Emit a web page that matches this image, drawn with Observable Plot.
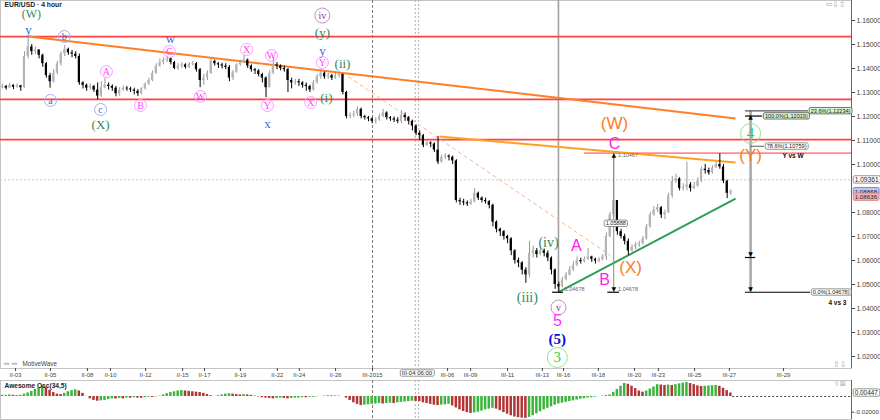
<!DOCTYPE html>
<html><head><meta charset="utf-8">
<script src="https://cdn.jsdelivr.net/npm/d3@7"></script>
<script src="https://cdn.jsdelivr.net/npm/@observablehq/plot@0.6"></script>
<style>
body{margin:0;background:#fff;}
#wrap{position:relative;width:880px;height:420px;overflow:hidden;background:#fff;}
#main{position:absolute;left:0;top:0;}
#osc{position:absolute;left:0;top:380px;}
svg{display:block;}
</style></head><body><div id="wrap"><div id="main"></div><div id="osc"></div></div>
<script>
// ---------------- DATA (EUR/USD, 4 hour candles) ----------------
const firstOpen = 1.1320;
const closes = [
 1.1325,1.1318,1.1330,1.1322,1.1328,1.1320,1.1450,1.1490,1.1470,1.1478,
 1.1455,1.1420,1.1370,1.1345,1.1380,1.1420,1.1460,1.1480,1.1465,1.1460,
 1.1450,1.1340,1.1330,1.1318,1.1325,1.1310,1.1285,1.1320,1.1330,1.1325,
 1.1318,1.1295,1.1310,1.1318,1.1315,1.1310,1.1305,1.1295,1.1315,1.1335,
 1.1350,1.1380,1.1410,1.1425,1.1435,1.1440,1.1425,1.1400,1.1410,1.1415,
 1.1405,1.1418,1.1420,1.1395,1.1350,1.1360,1.1380,1.1430,1.1420,1.1415,
 1.1410,1.1405,1.1360,1.1385,1.1415,1.1425,1.1435,1.1410,1.1395,1.1390,
 1.1375,1.1360,1.1320,1.1380,1.1415,1.1410,1.1400,1.1395,1.1350,1.1340,
 1.1345,1.1340,1.1330,1.1325,1.1310,1.1340,1.1365,1.1380,1.1365,1.1370,
 1.1360,1.1370,1.1375,1.1300,1.1200,1.1205,1.1210,1.1230,1.1200,1.1195,
 1.1190,1.1180,1.1185,1.1200,1.1215,1.1195,1.1190,1.1185,1.1180,1.1205,
 1.1195,1.1180,1.1160,1.1130,1.1120,1.1080,1.1090,1.1085,1.1060,1.1010,
 1.1030,1.1035,1.1030,1.1015,1.0850,1.0845,1.0840,1.0835,1.0845,1.0880,
 1.0860,1.0850,1.0845,1.0830,1.0760,1.0730,1.0720,1.0700,1.0690,1.0640,
 1.0600,1.0590,1.0560,1.0540,1.0630,1.0640,1.0625,1.0640,1.0630,1.0610,
 1.0560,1.0500,1.0490,1.0520,1.0540,1.0560,1.0580,1.0600,1.0595,1.0605,
 1.0615,1.0605,1.0598,1.0605,1.0615,1.0700,1.0790,1.0850,1.0720,1.0700,
 1.0680,1.0640,1.0655,1.0665,1.0670,1.0690,1.0740,1.0790,1.0810,1.0820,
 1.0790,1.0800,1.0870,1.0930,1.0940,1.0900,1.0905,1.0915,1.0900,1.0910,
 1.0930,1.0980,1.0975,1.0965,1.0985,1.1000,1.0990,1.0930,1.0880,1.0887];
const highs = [
 1.1335,1.1330,1.1338,1.1332,1.1336,1.1330,1.1470,1.1533,1.1500,1.1490,
 1.1475,1.1460,1.1425,1.1380,1.1395,1.1430,1.1470,1.1495,1.1485,1.1475,
 1.1470,1.1460,1.1345,1.1335,1.1335,1.1330,1.1340,1.1345,1.1358,1.1340,
 1.1332,1.1325,1.1320,1.1328,1.1325,1.1322,1.1318,1.1312,1.1320,1.1340,
 1.1360,1.1390,1.1420,1.1440,1.1445,1.1452,1.1445,1.1430,1.1420,1.1425,
 1.1420,1.1425,1.1430,1.1425,1.1400,1.1375,1.1390,1.1440,1.1435,1.1425,
 1.1422,1.1420,1.1412,1.1392,1.1420,1.1435,1.1455,1.1440,1.1415,1.1400,
 1.1395,1.1380,1.1365,1.1390,1.1445,1.1425,1.1415,1.1410,1.1400,1.1360,
 1.1355,1.1355,1.1345,1.1340,1.1330,1.1350,1.1375,1.1395,1.1385,1.1380,
 1.1375,1.1380,1.1385,1.1378,1.1305,1.1215,1.1222,1.1240,1.1235,1.1205,
 1.1200,1.1195,1.1195,1.1210,1.1230,1.1220,1.1200,1.1198,1.1195,1.1225,
 1.1215,1.1200,1.1185,1.1165,1.1140,1.1125,1.1100,1.1095,1.1090,1.1117,
 1.1040,1.1045,1.1040,1.1035,1.1020,1.0860,1.0855,1.0848,1.0855,1.0900,
 1.0885,1.0865,1.0860,1.0850,1.0835,1.0765,1.0735,1.0725,1.0705,1.0695,
 1.0645,1.0610,1.0595,1.0570,1.0680,1.0660,1.0650,1.0655,1.0648,1.0640,
 1.0615,1.0565,1.0510,1.0530,1.0550,1.0575,1.0595,1.0615,1.0610,1.0615,
 1.0650,1.0618,1.0610,1.0612,1.0625,1.0715,1.0800,1.1047,1.0850,1.0730,
 1.0710,1.0690,1.0665,1.0675,1.0680,1.0700,1.0750,1.0800,1.0825,1.0835,
 1.0825,1.0810,1.0880,1.0950,1.0960,1.0945,1.0920,1.1010,1.0925,1.0925,
 1.0945,1.0990,1.1000,1.0985,1.0995,1.1010,1.1045,1.1000,1.0935,1.0895];
const lows = [
 1.1315,1.1310,1.1318,1.1312,1.1318,1.1305,1.1318,1.1440,1.1455,1.1458,
 1.1440,1.1405,1.1360,1.1318,1.1340,1.1375,1.1410,1.1450,1.1455,1.1445,
 1.1440,1.1330,1.1315,1.1305,1.1310,1.1300,1.1270,1.1280,1.1315,1.1310,
 1.1305,1.1282,1.1285,1.1305,1.1305,1.1300,1.1290,1.1283,1.1290,1.1310,
 1.1330,1.1345,1.1375,1.1405,1.1415,1.1425,1.1415,1.1395,1.1392,1.1400,
 1.1398,1.1400,1.1410,1.1385,1.1320,1.1330,1.1350,1.1375,1.1410,1.1400,
 1.1398,1.1395,1.1345,1.1350,1.1380,1.1410,1.1420,1.1400,1.1385,1.1375,
 1.1365,1.1340,1.1278,1.1320,1.1375,1.1395,1.1390,1.1385,1.1300,1.1315,
 1.1330,1.1325,1.1318,1.1305,1.1300,1.1305,1.1335,1.1355,1.1355,1.1355,
 1.1350,1.1355,1.1360,1.1290,1.1190,1.1190,1.1195,1.1200,1.1190,1.1185,
 1.1178,1.1170,1.1168,1.1180,1.1195,1.1185,1.1180,1.1175,1.1170,1.1170,
 1.1180,1.1165,1.1140,1.1120,1.1100,1.1070,1.1075,1.1070,1.1050,1.1000,
 1.1005,1.1020,1.1015,1.1000,1.0840,1.0830,1.0828,1.0825,1.0830,1.0840,
 1.0850,1.0840,1.0835,1.0815,1.0740,1.0715,1.0700,1.0685,1.0670,1.0620,
 1.0585,1.0570,1.0540,1.0505,1.0530,1.0610,1.0610,1.0620,1.0615,1.0595,
 1.0540,1.0480,1.0468,1.0485,1.0515,1.0535,1.0555,1.0575,1.0585,1.0590,
 1.0600,1.0592,1.0585,1.0590,1.0598,1.0600,1.0695,1.0780,1.0705,1.0690,
 1.0665,1.0620,1.0635,1.0645,1.0655,1.0665,1.0685,1.0735,1.0785,1.0800,
 1.0775,1.0770,1.0795,1.0860,1.0920,1.0890,1.0890,1.0890,1.0885,1.0895,
 1.0905,1.0925,1.0960,1.0955,1.0960,1.0985,1.0980,1.0920,1.0858,1.0870];
// Awesome Oscillator (34,5), in thousandths
const aoValues = [
 1.5,1.5,2,1.5,1,1.5,3,4.5,6.5,9,
 11,13,11,8,5,3,2.5,4,6,7.5,
 8.5,7,4,0,-3,-5,-6,-5.5,-5,-4,
 -3,-3.2,-2.5,-3,-2,-2.2,-1.5,-2,-2.3,-1.5,
 -1,-1.2,-0.5,0.5,2,3.5,5,6,7,7.5,
 7,6.5,6,5.5,5,4,2.5,1,0,1,
 2,3,3.5,3,2.5,2,2.5,2,1.5,0.5,
 -0.5,-1.5,-2,-2.5,-3,-2.5,-2,-2.5,-3,-2.5,
 -2,-2,-1.5,-1.6,-1,-1,-0.5,0,0.5,1,
 1,0.5,0.5,0,-2,-5,-8,-10,-11.5,-11,
 -10.5,-10,-9.5,-9,-9.5,-9,-8.5,-9,-8,-7.5,
 -7,-6.5,-6,-6.2,-6.5,-8,-9,-10,-11,-11.5,
 -11,-10.5,-10,-12,-14.5,-17,-19,-20.5,-21.5,-21,
 -20,-18.5,-17,-16,-15,-16,-18,-20.5,-22.5,-24.5,
 -26,-27,-27.5,-27.8,-26.5,-24.5,-22,-19.5,-17,-15,
 -13,-11,-9.5,-8.5,-7.5,-6.5,-5.5,-4.5,-3.5,-2.8,
 -2,-1.5,-0.8,0,0.6,1.2,2,5,9,13,
 16.5,15.5,13,10,7,5.5,7,9.5,12,15,
 14.5,14,14.5,14,15,16,17,17.8,16.5,15,
 13.5,12.7,13,13.3,13.6,14,13,10.5,7.5,4.47];

// price-axis labels (1.09000 is hidden behind the last-price tags in the reference)
const priceTicks = [1.02,1.03,1.04,1.05,1.06,1.07,1.08,1.10,1.11,1.12,1.13,1.14,1.15,1.16];
const oscTicks = [-0.02];
const dateTickIndex = [3.55,13.1,23.2,29.5,39.1,49.2,55.2,65,75.1,81.1,91,101.1,121.6,127.9,138,147.5,153.3,162.8,172.7,179.2,189.1,198.6,213.4];
const dateTickLabels = ["II-03","II-05","II-08","II-10","II-12","II-15","II-17","II-19","II-22","II-24","II-26","III-2015","III-06","III-09","III-11","III-13","III-16","III-18","III-20","III-23","III-25","III-27","III-29"];
const monthBreak = 101.1;
const crosshair = [112.8, 113.7];
const crosshairLabel = "III-04 06:00";
const currentPrice = 1.09361;
const lastPrices = [1.08868, 1.08636];
const lastAO = 0.00447;

// horizontal red levels
const redLevels = [1.1533, 1.1271, 1.1104];
const cLevel = {p: 1.1047, from: 159};
// trend lines
const trendlines = [
 {i1: 7.1, p1: 1.1533, i2: 200.3, p2: 1.1192, k: "orange"},
 {i1: 119.4, p1: 1.1117, i2: 200.3, p2: 1.1008, k: "amber"},
 {i1: 151.9, p1: 1.04678, i2: 200.3, p2: 1.0858, k: "green"},
 {i1: 92.9, p1: 1.1383, i2: 166.1, p2: 1.0621, k: "dash"}
];
// Elliott wave labels
const waveText  = ["(W)","y","b","a","c","(X)","A","B","w","C","W","X","W","Y","x","iv","(y)","y","Y","(ii)","X","(i)","(iii)","(iv)","v","5","(5)","3","A","B","(X)","(W)","C","4","(Y)"];
const waveIndex = [7.9,7.1,16.9,13.1,26.8,26.8,28.4,37.7,45.9,45.6,54.1,66.7,73.5,72.4,72.4,87.4,87.4,87.4,87.4,92.9,84.2,88.5,143.4,149.2,151.9,151.6,151.6,151.6,156.8,164.5,171.6,167.2,167.2,204.4,204.4];
const wavePrice = [1.16250,1.15625,1.15333,1.12667,1.12292,1.11667,1.13875,1.12458,1.1525,1.14708,1.12833,1.14792,1.14542,1.12458,1.11708,1.16208,1.155,1.1475,1.1425,1.14208,1.12583,1.12792,1.04458,1.0675,1.04042,1.035,1.02708,1.01958,1.06625,1.05208,1.05708,1.11708,1.10875,1.11292,1.10375];
const waveDegree = ["gt","b","bc","bc","bc","g","mc","mc","b","mc","mc","mc","mc","mc","b","pc","g","b","mc","g","mc","g","g2","g2","pc","m","B","lc","M","M","O","O","M","lc","O"];
// fibonacci / measure tool
const fibLevels = [1.12234, 1.12019, 1.10759, 1.04678];
const fibLabels = ["23.6%(1.12234)","100.0%(1.12019)","78.6%(1.10759)","0.0%(1.04678)"];
const fibAnchor = 204.4;
const fibLow = 1.04678, fibTop = 1.12234, fibMark = 1.06125;
const measureIndex = 167, measureHigh = 1.1047;
const measureTag = "1.05888", measureTagPrice = 1.07542;

// ---------------- STYLES ----------------
const serif = "Liberation Serif, Times New Roman, serif";
const sans = "Liberation Sans, Arial, sans-serif";
const sym = "DejaVu Sans, sans-serif";
const upCol = "#b4b4b4", upWick = "#999999", downCol = "#000000";
const aoUp = "#3db43d", aoDown = "#b03535";
const degreeStyles = {
 gt: {fill:"#2e8b57", size:12, font:serif},
 g:  {fill:"#2e8b57", size:13, font:serif},
 g2: {fill:"#2e8b57", size:14, font:serif},
 b:  {fill:"#4169e1", size:13, font:serif},
 bc: {fill:"#4169e1", size:10, font:serif, r:6, ring:"#9db3f2"},
 mc: {fill:"#ff40ff", size:10, font:serif, r:6, ring:"#ff9cff"},
 pc: {fill:"#8e3a8e", size:10, font:serif, r:7.5, ring:"#c58bc5"},
 m:  {fill:"#ff30ff", size:16, font:sans},
 B:  {fill:"#0a0ad0", size:15, font:serif, weight:"bold"},
 lc: {fill:"#33cc33", size:15, font:serif, r:10, ring:"#8de58d"},
 M:  {fill:"#ff22ee", size:16, font:sans},
 O:  {fill:"#ff7a1a", size:17, font:sans}
};
const trendStyles = {
 orange: {stroke:"#ff7f27", w:2},
 amber:  {stroke:"#ffa020", w:2},
 green:  {stroke:"#2e9e5a", w:2},
 dash:   {stroke:"#ffb38a", w:1, dash:"4,3"}
};
const tagStyles = {white: ["#ffffff", "#7a7a7a"], green: ["#d4f4d0", "#555555"], blue: ["#bfc3f2", "#6f6fc0"], pink: ["#f6b3b3", "#cf7a7a"]};

// ---------------- BUILD ----------------
const xDomain = [-0.546, 231.97];
const yDomain = [1.015, 1.168333];
const candles = closes.map((c, i) => ({i, o: i === 0 ? firstOpen : closes[i-1], h: highs[i], l: lows[i], c}));
const isUp = d => d.c >= d.o;
const labelMap = new Map(dateTickIndex.map((t, k) => [t, dateTickLabels[k]]));
const waves = waveText.map((t, k) => ({t, i: waveIndex[k], p: wavePrice[k], s: waveDegree[k]}));

const waveMarks = [];
for (const [key, st] of Object.entries(degreeStyles)) {
  const data = waves.filter(d => d.s === key);
  if (!data.length) continue;
  if (st.r) waveMarks.push(Plot.dot(data, {x:"i", y:"p", r: st.r, stroke: st.ring, fill: "none", strokeWidth: 1}));
  waveMarks.push(Plot.text(data, {x:"i", y:"p", text:"t", fill: st.fill, fontSize: st.size, fontFamily: st.font, fontWeight: st.weight || "normal"}));
}
const trendMarks = trendlines.map(t => {
  const st = trendStyles[t.k];
  return Plot.link([t], {x1:"i1", y1:"p1", x2:"i2", y2:"p2", stroke: st.stroke, strokeWidth: st.w, strokeDasharray: st.dash || null});
});

const fibSegments = [
 {p: fibLevels[0], i1: fibAnchor - 1.4, i2: 220.2, s: "#555"},
 {p: fibLevels[1], i1: fibAnchor - 1.4, i2: 207.7, s: "#000"},
 {p: fibLevels[2], i1: fibAnchor, i2: 208.2, s: "#777"},
 {p: fibMark, i1: fibAnchor - 1.4, i2: fibAnchor + 1.4, s: "#000"},
 {p: fibLevels[3], i1: fibAnchor - 1.4, i2: 220.8, s: "#000"},
 {p: fibLow, i1: measureIndex - 1.6, i2: measureIndex + 1.6, s: "#000"},
 {p: fibLow, i1: 150.3, i2: 153.3, s: "#000"}
];
const markers = [
 {i: measureIndex, p: 1.1040, t: "▲"}, {i: measureIndex, p: 1.0481, t: "▼"},
 {i: fibAnchor, p: 1.0481, t: "▼"}, {i: fibAnchor, p: 1.0627, t: "▼"},
 {i: fibAnchor, p: 1.1197, t: "▲"}
];
const smallTags = [
 {i: 168.2, p: 1.1037, t: "1.10467"},
 {i: 168.2, p: 1.0480, t: "1.04678"},
 {i: 153.6, p: 1.0480, t: "1.04678"}
];
const fibBoxesG = [{i: 220.4, p: fibLevels[0], t: fibLabels[0]}, {i: 207.9, p: fibLevels[1], t: fibLabels[1]}];
const fibBoxesW = [{i: 208.4, p: fibLevels[2], t: fibLabels[2]}, {i: 221.0, p: fibLevels[3], t: fibLabels[3]}, {i: 164.4, p: measureTagPrice, t: measureTag}];
const axisEdge = 232.3;

// which texts get a framed tag, and in which colours
const tagFor = new Map([
 [fibLabels[0], "green"], [fibLabels[1], "green"], [fibLabels[2], "white"], [fibLabels[3], "white"],
 [measureTag, "white"], [currentPrice.toFixed(5), "white"], [lastPrices[0].toFixed(5), "blue"],
 [lastPrices[1].toFixed(5), "pink"], [crosshairLabel, "white"], [lastAO.toFixed(5), "white"]
]);

const main = Plot.plot({
  width: 880, height: 380,
  marginTop: 0, marginRight: 29, marginBottom: 12, marginLeft: 0,
  x: {domain: xDomain, label: null},
  y: {domain: yDomain, label: null},
  color: {type: "identity"},
  style: {fontFamily: sans, background: "#fff", overflow: "visible"},
  marks: [
    Plot.frame({stroke: "#c4c4c4"}),
    Plot.ruleY([currentPrice], {stroke: "#c8c8c8", strokeDasharray: "2,2"}),
    Plot.ruleX([monthBreak], {stroke: "#7a7a7a", strokeDasharray: "3,2"}),
    Plot.ruleX(crosshair, {stroke: "#b0b0b0", strokeDasharray: "2,2"}),
    Plot.ruleX([{i: 151.9}], {x: "i", y1: () => fibLow, y2: () => yDomain[1], stroke: "#a0a0a0", strokeWidth: 1.6}),
    Plot.ruleY(redLevels, {stroke: "#ff4040", strokeWidth: 1.8}),
    Plot.ruleY([cLevel], {y: "p", x1: "from", x2: () => xDomain[1], stroke: "#ff8c8c", strokeWidth: 1.8}),
    ...trendMarks,
    Plot.ruleX(candles, {x: "i", y1: "l", y2: "h", stroke: d => isUp(d) ? upWick : downCol, strokeWidth: 1}),
    Plot.rect(candles, {x1: d => d.i - 0.3, x2: d => d.i + 0.3, y1: "o", y2: "c", fill: d => isUp(d) ? upCol : downCol}),
    Plot.ruleX([{i: measureIndex}], {x: "i", y1: () => measureHigh, y2: () => fibLow, stroke: "#8a8a8a", strokeWidth: 1}),
    Plot.ruleX([{i: fibAnchor}], {x: "i", y1: () => fibTop, y2: () => fibLow, stroke: "#a8a8a8", strokeWidth: 2.5}),
    Plot.ruleY(fibSegments, {y: "p", x1: "i1", x2: "i2", stroke: "s", strokeWidth: 1.2}),
    Plot.text(markers, {x: "i", y: "p", text: "t", fontSize: 6, fill: "#000", fontFamily: sym}),
    Plot.text(smallTags, {x: "i", y: "p", text: "t", fontSize: 5.5, fill: "#666", textAnchor: "start"}),
    ...waveMarks,
    Plot.text([{i: 218.9, p: 1.10375, t: "Y vs W"}, {i: 230.6, p: 1.0425, t: "4 vs 3"}], {x: "i", y: "p", text: "t", textAnchor: "end", fontSize: 6.5, fontWeight: "bold", fill: "#111"}),
    Plot.ruleX([xDomain[1]], {stroke: "#666"}),
    Plot.axisY(priceTicks, {anchor: "right", tickSize: 3, tickPadding: 2, tickFormat: d => d.toFixed(5), fontSize: 6.8, color: "#444", label: null}),
    Plot.axisX(dateTickIndex, {anchor: "bottom", tickSize: 3, tickPadding: 1, tickFormat: d => labelMap.get(d), fontSize: 6, color: "#444", label: null}),
    Plot.text(fibBoxesG, {x: "i", y: "p", text: "t", textAnchor: "start", dx: 1.5, fontSize: 5.6, fill: "#222"}),
    Plot.text(fibBoxesW, {x: "i", y: "p", text: "t", textAnchor: "start", dx: 1.5, fontSize: 5.6, fill: "#222"}),
    Plot.text([{i: axisEdge, p: currentPrice}], {x: "i", y: "p", text: () => currentPrice.toFixed(5), textAnchor: "start", dx: 2, fontSize: 6.6, fill: "#222"}),
    Plot.text([{i: axisEdge, p: lastPrices[0]}], {x: "i", y: "p", text: () => lastPrices[0].toFixed(5), textAnchor: "start", dx: 2, fontSize: 6.2, fill: "#222"}),
    Plot.text([{i: axisEdge, p: lastPrices[1]}], {x: "i", y: "p", text: () => lastPrices[1].toFixed(5), textAnchor: "start", dx: 2, fontSize: 6.2, fill: "#222"}),
    Plot.text([crosshairLabel], {x: () => (crosshair[0] + crosshair[1]) / 2, frameAnchor: "bottom", dy: 6.5, fontSize: 6, fill: "#222"}),
    Plot.text(["EUR/USD · 4 hour"], {frameAnchor: "top-left", dx: 4, dy: 1.5, textAnchor: "start", fontSize: 6.8, fontWeight: "bold", fill: "#222"}),
    Plot.text(["⇔ ⇔"], {frameAnchor: "bottom-left", dx: 3, dy: -3, textAnchor: "start", fontSize: 7, fill: "#999", fontFamily: sym}),
    Plot.text(["MotiveWave"], {frameAnchor: "bottom-left", dx: 22, dy: -3, textAnchor: "start", fontSize: 6.3, fill: "#444"}),
    Plot.text(["⇦⇩⇧"], {frameAnchor: "top-right", dx: -6, dy: 1, textAnchor: "end", fontSize: 8, fill: "#aaa", fontFamily: sym}),
    Plot.text(["⇧⇩"], {frameAnchor: "bottom-right", dx: -5, dy: -2, textAnchor: "end", fontSize: 8, fill: "#aaa", fontFamily: sym})
  ]
});

const aoData = aoValues.map((v, i) => ({i, v: v / 1000, col: i > 0 && v < aoValues[i-1] ? aoDown : aoUp}));
const osc = Plot.plot({
  width: 880, height: 40,
  marginTop: 0, marginRight: 29, marginBottom: 1, marginLeft: 0,
  x: {domain: xDomain, axis: null, label: null},
  y: {domain: [-0.0292, 0.0203], label: null},
  color: {type: "identity"},
  style: {fontFamily: sans, background: "#fff", overflow: "visible"},
  marks: [
    Plot.frame({stroke: "#c4c4c4"}),
    Plot.ruleX([monthBreak], {stroke: "#7a7a7a", strokeDasharray: "3,2"}),
    Plot.ruleX(crosshair, {stroke: "#b0b0b0", strokeDasharray: "2,2"}),
    Plot.rect(aoData, {x1: d => d.i - 0.34, x2: d => d.i + 0.34, y1: () => 0, y2: "v", fill: "col"}),
    Plot.ruleY([0], {x1: () => closes.length - 0.5, x2: () => xDomain[1], stroke: "#444", strokeDasharray: "2,2"}),
    Plot.ruleX([xDomain[1]], {stroke: "#666"}),
    Plot.axisY(oscTicks, {anchor: "right", tickSize: 2, tickPadding: 1, tickFormat: d => d.toFixed(5), fontSize: 6.2, color: "#444", label: null}),
    Plot.text([{i: axisEdge, p: lastAO}], {x: "i", y: "p", text: () => lastAO.toFixed(5), textAnchor: "start", dx: 2, fontSize: 6.4, fill: "#222"}),
    Plot.text(["Awesome Osc(34,5)"], {frameAnchor: "top-left", dx: 4, dy: 3, textAnchor: "start", fontSize: 6.6, fontWeight: "bold", fill: "#222"}),
    Plot.text(["⇧⊠"], {frameAnchor: "top-right", dx: -6, dy: 1, textAnchor: "end", fontSize: 7, fill: "#aaa", fontFamily: sym})
  ]
});

document.getElementById("main").append(main);
document.getElementById("osc").append(osc);

// draw the small framed tags behind the tagged texts
function addTags(svg) {
  svg.querySelectorAll("text").forEach(t => {
    const kind = tagFor.get(t.textContent.trim());
    if (!kind) return;
    const [f, s] = tagStyles[kind];
    const b = t.getBBox();
    const r = document.createElementNS("http://www.w3.org/2000/svg", "rect");
    r.setAttribute("x", b.x - 1.5); r.setAttribute("y", b.y - 0.2);
    r.setAttribute("width", b.width + 3); r.setAttribute("height", b.height + 0.4);
    r.setAttribute("rx", 1.5); r.setAttribute("fill", f); r.setAttribute("stroke", s); r.setAttribute("stroke-width", 0.8);
    const tr = t.getAttribute("transform"); if (tr) r.setAttribute("transform", tr);
    t.parentNode.insertBefore(r, t);
  });
}
addTags(main); addTags(osc);
</script></body></html>
